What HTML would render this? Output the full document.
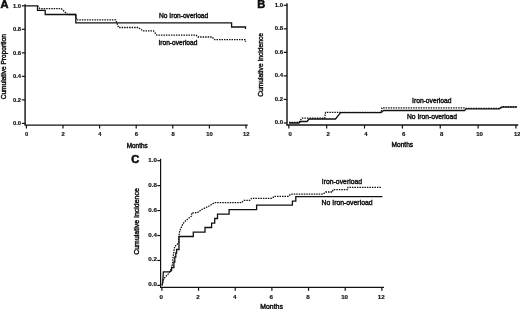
<!DOCTYPE html>
<html><head><meta charset="utf-8"><title>Figure</title>
<style>
html,body{margin:0;padding:0;background:#fff;}
svg{display:block;}
text{font-family:"Liberation Sans", sans-serif;fill:#111;stroke:#111;stroke-width:0.42;}
text.tk{stroke-width:0.18;}
text.lt{stroke-width:0.6;}
svg>g{filter:blur(0.3px);}
</style></head>
<body>
<svg width="520" height="309" viewBox="0 0 520 309">
<rect width="520" height="309" fill="#fff"/>
<g>
<path d="M25.1 4.3 V125.1 H247.8" fill="none" stroke="#111" stroke-width="1.4"/>
<path d="M21.80 123.40 H25.1" stroke="#111" stroke-width="1.2"/>
<text x="21.00" y="125.10" font-size="5.8" text-anchor="end" font-weight="bold" class="tk">0.0</text>
<path d="M21.80 99.88 H25.1" stroke="#111" stroke-width="1.2"/>
<text x="21.00" y="101.64" font-size="5.8" text-anchor="end" font-weight="bold" class="tk">0.2</text>
<path d="M21.80 76.36 H25.1" stroke="#111" stroke-width="1.2"/>
<text x="21.00" y="78.18" font-size="5.8" text-anchor="end" font-weight="bold" class="tk">0.4</text>
<path d="M21.80 52.84 H25.1" stroke="#111" stroke-width="1.2"/>
<text x="21.00" y="54.72" font-size="5.8" text-anchor="end" font-weight="bold" class="tk">0.6</text>
<path d="M21.80 29.32 H25.1" stroke="#111" stroke-width="1.2"/>
<text x="21.00" y="31.26" font-size="5.8" text-anchor="end" font-weight="bold" class="tk">0.8</text>
<path d="M21.80 5.80 H25.1" stroke="#111" stroke-width="1.2"/>
<text x="21.00" y="7.80" font-size="5.8" text-anchor="end" font-weight="bold" class="tk">1.0</text>
<path d="M26.40 125.1 V128.60" stroke="#111" stroke-width="1.2"/>
<text x="26.60" y="135.50" font-size="5.8" text-anchor="middle" font-weight="bold" class="tk">0</text>
<path d="M63.00 125.1 V128.60" stroke="#111" stroke-width="1.2"/>
<text x="63.20" y="135.50" font-size="5.8" text-anchor="middle" font-weight="bold" class="tk">2</text>
<path d="M99.60 125.1 V128.60" stroke="#111" stroke-width="1.2"/>
<text x="99.80" y="135.50" font-size="5.8" text-anchor="middle" font-weight="bold" class="tk">4</text>
<path d="M136.20 125.1 V128.60" stroke="#111" stroke-width="1.2"/>
<text x="136.40" y="135.50" font-size="5.8" text-anchor="middle" font-weight="bold" class="tk">6</text>
<path d="M172.80 125.1 V128.60" stroke="#111" stroke-width="1.2"/>
<text x="173.00" y="135.50" font-size="5.8" text-anchor="middle" font-weight="bold" class="tk">8</text>
<path d="M209.40 125.1 V128.60" stroke="#111" stroke-width="1.2"/>
<text x="209.60" y="135.50" font-size="5.8" text-anchor="middle" font-weight="bold" class="tk">10</text>
<path d="M246.00 125.1 V128.60" stroke="#111" stroke-width="1.2"/>
<text x="246.20" y="135.50" font-size="5.8" text-anchor="middle" font-weight="bold" class="tk">12</text>
<text transform="translate(5.75 66.75) rotate(-90)" font-size="6.58" text-anchor="middle">Cumulative Proportion</text>
<text x="137.2" y="148" font-size="6.4" text-anchor="middle">Months</text>
<text x="0.5" y="8.1" font-size="11" font-weight="bold" class="lt">A</text>
<path d="M25.5 5.8 L37.5 5.8 L37.5 10.4 L45.2 10.4 L45.2 14.5 L75.8 14.5 L75.8 22.9 L231.6 22.9 L231.6 27.0 L245.5 27.0 L245.5 29.0" fill="none" stroke="#111" stroke-width="1.3" stroke-linejoin="miter"/>
<path d="M37.5 5.8 L39.8 8.6 L61.3 8.6 L67.6 14.5 L75.8 14.5 L76.8 19.9 L115.7 19.9 L118.6 27.5 L138.4 27.5 L143.0 30.9 L153.5 30.9 L156.7 35.1 L196.1 35.1 L198.0 37.0 L212.0 37.0 L214.6 39.7 L245.5 39.7 L245.5 41.8" fill="none" stroke="#111" stroke-width="1.3" stroke-dasharray="1.5 1.0" stroke-linejoin="miter"/>
<text x="159.1" y="17.5" font-size="6.6">No Iron-overload</text>
<text x="158.5" y="45.4" font-size="6.6">Iron-overload</text>
<path d="M287.0 3.3 V125.0 H518.2" fill="none" stroke="#111" stroke-width="1.4"/>
<path d="M283.70 123.00 H287.0" stroke="#111" stroke-width="1.2"/>
<text x="283.00" y="124.40" font-size="6.0" text-anchor="end" font-weight="bold" class="tk">0.0</text>
<path d="M283.70 99.46 H287.0" stroke="#111" stroke-width="1.2"/>
<text x="283.00" y="100.82" font-size="6.0" text-anchor="end" font-weight="bold" class="tk">0.2</text>
<path d="M283.70 75.92 H287.0" stroke="#111" stroke-width="1.2"/>
<text x="283.00" y="77.24" font-size="6.0" text-anchor="end" font-weight="bold" class="tk">0.4</text>
<path d="M283.70 52.38 H287.0" stroke="#111" stroke-width="1.2"/>
<text x="283.00" y="53.66" font-size="6.0" text-anchor="end" font-weight="bold" class="tk">0.6</text>
<path d="M283.70 28.84 H287.0" stroke="#111" stroke-width="1.2"/>
<text x="283.00" y="30.08" font-size="6.0" text-anchor="end" font-weight="bold" class="tk">0.8</text>
<path d="M283.70 5.30 H287.0" stroke="#111" stroke-width="1.2"/>
<text x="283.00" y="6.50" font-size="6.0" text-anchor="end" font-weight="bold" class="tk">1.0</text>
<path d="M288.80 125.0 V128.50" stroke="#111" stroke-width="1.2"/>
<text x="290.20" y="136.30" font-size="6.0" text-anchor="middle" font-weight="bold" class="tk">0</text>
<path d="M326.66 125.0 V128.50" stroke="#111" stroke-width="1.2"/>
<text x="328.06" y="136.30" font-size="6.0" text-anchor="middle" font-weight="bold" class="tk">2</text>
<path d="M364.52 125.0 V128.50" stroke="#111" stroke-width="1.2"/>
<text x="365.92" y="136.30" font-size="6.0" text-anchor="middle" font-weight="bold" class="tk">4</text>
<path d="M402.38 125.0 V128.50" stroke="#111" stroke-width="1.2"/>
<text x="403.78" y="136.30" font-size="6.0" text-anchor="middle" font-weight="bold" class="tk">6</text>
<path d="M440.24 125.0 V128.50" stroke="#111" stroke-width="1.2"/>
<text x="441.64" y="136.30" font-size="6.0" text-anchor="middle" font-weight="bold" class="tk">8</text>
<path d="M478.10 125.0 V128.50" stroke="#111" stroke-width="1.2"/>
<text x="479.50" y="136.30" font-size="6.0" text-anchor="middle" font-weight="bold" class="tk">10</text>
<path d="M515.96 125.0 V128.50" stroke="#111" stroke-width="1.2"/>
<text x="517.36" y="136.30" font-size="6.0" text-anchor="middle" font-weight="bold" class="tk">12</text>
<text transform="translate(263.2 64.9) rotate(-90)" font-size="6.67" text-anchor="middle">Cumulative Incidence</text>
<text x="402.3" y="146.8" font-size="6.6" text-anchor="middle">Months</text>
<text x="257.3" y="8.4" font-size="11" font-weight="bold" class="lt">B</text>
<path d="M289.0 123.0 L298.9 123.0 L300.8 121.5 L307.1 121.5 L309.0 119.0 L335.5 119.0 L340.6 112.7 L381.1 112.7 L383.6 110.5 L464.5 110.5 L466.0 108.8 L499.2 108.8 L502.3 107.1 L516.9 107.1" fill="none" stroke="#111" stroke-width="1.3" stroke-linejoin="miter"/>
<path d="M289.0 122.3 L298.9 122.3 L302.0 118.1 L324.8 118.1 L325.5 112.4 L340.6 112.4 L381.1 112.4 L382.0 107.9 L464.5 107.9 L466.0 108.3 L499.2 108.3 L502.3 106.6 L516.9 106.6" fill="none" stroke="#111" stroke-width="1.3" stroke-dasharray="1.5 1.0" stroke-linejoin="miter"/>
<text x="412.1" y="103.3" font-size="6.7">Iron-overload</text>
<text x="407" y="118.8" font-size="6.72">No Iron-overload</text>
<path d="M160.6 158.8 V287.3 H384.0" fill="none" stroke="#111" stroke-width="1.2"/>
<path d="M157.30 285.40 H160.6" stroke="#111" stroke-width="1.2"/>
<text x="156.90" y="286.30" font-size="6.2" text-anchor="end" font-weight="bold" class="tk">0.0</text>
<path d="M157.30 260.46 H160.6" stroke="#111" stroke-width="1.2"/>
<text x="156.90" y="261.40" font-size="6.2" text-anchor="end" font-weight="bold" class="tk">0.2</text>
<path d="M157.30 235.52 H160.6" stroke="#111" stroke-width="1.2"/>
<text x="156.90" y="236.50" font-size="6.2" text-anchor="end" font-weight="bold" class="tk">0.4</text>
<path d="M157.30 210.58 H160.6" stroke="#111" stroke-width="1.2"/>
<text x="156.90" y="211.60" font-size="6.2" text-anchor="end" font-weight="bold" class="tk">0.6</text>
<path d="M157.30 185.64 H160.6" stroke="#111" stroke-width="1.2"/>
<text x="156.90" y="186.70" font-size="6.2" text-anchor="end" font-weight="bold" class="tk">0.8</text>
<path d="M157.30 160.70 H160.6" stroke="#111" stroke-width="1.2"/>
<text x="156.90" y="161.80" font-size="6.2" text-anchor="end" font-weight="bold" class="tk">1.0</text>
<path d="M161.90 287.3 V290.80" stroke="#111" stroke-width="1.2"/>
<text x="161.30" y="298.60" font-size="6.2" text-anchor="middle" font-weight="bold" class="tk">0</text>
<path d="M198.56 287.3 V290.80" stroke="#111" stroke-width="1.2"/>
<text x="197.96" y="298.60" font-size="6.2" text-anchor="middle" font-weight="bold" class="tk">2</text>
<path d="M235.22 287.3 V290.80" stroke="#111" stroke-width="1.2"/>
<text x="234.62" y="298.60" font-size="6.2" text-anchor="middle" font-weight="bold" class="tk">4</text>
<path d="M271.88 287.3 V290.80" stroke="#111" stroke-width="1.2"/>
<text x="271.28" y="298.60" font-size="6.2" text-anchor="middle" font-weight="bold" class="tk">6</text>
<path d="M308.54 287.3 V290.80" stroke="#111" stroke-width="1.2"/>
<text x="307.94" y="298.60" font-size="6.2" text-anchor="middle" font-weight="bold" class="tk">8</text>
<path d="M345.20 287.3 V290.80" stroke="#111" stroke-width="1.2"/>
<text x="344.60" y="298.60" font-size="6.2" text-anchor="middle" font-weight="bold" class="tk">10</text>
<path d="M381.86 287.3 V290.80" stroke="#111" stroke-width="1.2"/>
<text x="381.26" y="298.60" font-size="6.2" text-anchor="middle" font-weight="bold" class="tk">12</text>
<text transform="translate(138.7 221.5) rotate(-90)" font-size="6.98" text-anchor="middle">Cumulative Incidence</text>
<text x="271.6" y="308.6" font-size="6.9" text-anchor="middle">Months</text>
<text x="131.3" y="163.2" font-size="11" font-weight="bold" class="lt">C</text>
<path d="M162.2 285.4 L162.7 281.9 L163.4 271.8 L169.7 271.8 L171.6 270.6 L171.6 267.5 L173.9 267.5 L173.9 262.0 L174.8 262.0 L174.8 257.0 L175.8 257.0 L175.8 253.0 L176.6 253.0 L176.6 249.5 L179.0 249.5 L179.0 236.5 L193.3 236.5 L193.3 232.2 L205.0 232.2 L205.0 227.5 L211.6 227.5 L211.6 223.1 L214.7 223.1 L214.7 218.5 L217.5 218.5 L217.5 214.2 L229.1 214.2 L229.1 209.6 L256.6 209.6 L256.6 205.2 L292.4 205.2 L292.4 201.1 L295.8 201.1 L295.8 196.6 L382.4 196.6" fill="none" stroke="#111" stroke-width="1.3" stroke-linejoin="miter"/>
<path d="M162.2 285.4 L162.5 283.0 L163.8 278.8 L165.8 276.4 L168.5 273.7 L169.7 271.8 L171.2 269.0 L172.0 266.0 L172.5 264.0 L173.0 258.0 L173.5 254.2 L174.7 246.4 L177.4 244.1 L178.6 242.5 L178.9 236.5 L179.7 231.2 L180.6 228.9 L182.9 223.9 L184.3 222.1 L187.2 219.4 L191.6 216.0 L191.8 212.9 L197.4 212.6 L202.3 209.2 L208.2 206.5 L214.6 202.7 L241.4 202.7 L243.9 200.4 L249.6 200.4 L251.5 198.3 L272.3 198.3 L274.2 196.3 L288.2 196.3 L290.7 194.2 L322.9 194.2 L325.7 192.0 L332.3 192.0 L333.0 189.7 L347.5 189.7 L348.0 187.4 L381.2 187.4" fill="none" stroke="#111" stroke-width="1.3" stroke-dasharray="1.5 1.0" stroke-linejoin="miter"/>
<text x="321.8" y="183.9" font-size="6.85">Iron-overload</text>
<text x="321.6" y="205.3" font-size="6.85">No Iron-overload</text>
</g>
</svg>
</body></html>
